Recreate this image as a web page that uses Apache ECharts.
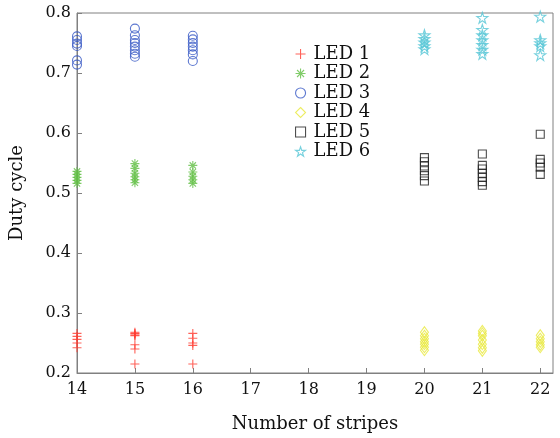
<!DOCTYPE html>
<html>
<head>
<meta charset="utf-8">
<script src="https://cdn.jsdelivr.net/npm/echarts@6/dist/echarts.min.js"></script>
<style>
  html, body { margin: 0; padding: 0; background: #fff; }
  #chart { width: 560px; height: 438px; }
</style>
</head>
<body>
<div id="chart"></div>
<script>
// Stripe counts measured for each LED group
const stripesA = [14, 15, 16];
const stripesB = [20, 21, 22];
const xTicks = [14, 15, 16, 17, 18, 19, 20, 21, 22];
const yTicks = [0.2, 0.3, 0.4, 0.5, 0.6, 0.7, 0.8];

// Duty cycle samples, one list per stripe count
const led1 = [
  [0.266, 0.261, 0.256, 0.250, 0.242],
  [0.268, 0.266, 0.265, 0.263, 0.262, 0.247, 0.240, 0.215],
  [0.266, 0.258, 0.250, 0.246, 0.215]
];
const led2 = [
  [0.536, 0.531, 0.526, 0.521, 0.516],
  [0.549, 0.541, 0.533, 0.527, 0.522, 0.517],
  [0.546, 0.535, 0.528, 0.522, 0.516]
];
const led3 = [
  [0.761, 0.755, 0.749, 0.745, 0.721, 0.714],
  [0.774, 0.763, 0.755, 0.750, 0.744, 0.738, 0.732, 0.727],
  [0.762, 0.756, 0.750, 0.744, 0.738, 0.731, 0.720]
];
const led4 = [
  [0.268, 0.262, 0.257, 0.252, 0.248, 0.243, 0.238],
  [0.270, 0.266, 0.262, 0.255, 0.248, 0.242, 0.237],
  [0.263, 0.257, 0.252, 0.247, 0.243]
];
const led5 = [
  [0.559, 0.552, 0.545, 0.537, 0.529, 0.520],
  [0.565, 0.546, 0.540, 0.533, 0.526, 0.519, 0.513],
  [0.598, 0.556, 0.550, 0.543, 0.531]
];
const led6 = [
  [0.763, 0.757, 0.751, 0.745, 0.740],
  [0.792, 0.772, 0.763, 0.755, 0.747, 0.739, 0.732],
  [0.794, 0.755, 0.750, 0.745, 0.730]
];
const seriesNames = ['LED 1', 'LED 2', 'LED 3', 'LED 4', 'LED 5', 'LED 6'];

function toPoints(xs, groups) {
  const pts = [];
  groups.forEach((vals, i) => vals.forEach(v => pts.push([xs[i], v])));
  return pts;
}

const SERIF = '"DejaVu Serif", "Liberation Serif", serif';
const PLUS = 'path://M0,5L10,5M5,0L5,10';
const ASTER = 'path://M0,5L10,5M5,0L5,10M1.5,1.5L8.5,8.5M1.5,8.5L8.5,1.5';
const STAR = 'path://M10,0L12.25,6.91L19.51,6.91L13.63,11.18L15.88,18.09L10,13.82L4.12,18.09L6.37,11.18L0.49,6.91L7.75,6.91Z';

function outlined(name, data, symbol, size, color) {
  return {
    name, type: 'scatter', data, symbol, symbolSize: size, clip: false,
    itemStyle: { color: 'rgba(0,0,0,0)', borderColor: color, borderWidth: 1.1 },
    emphasis: { disabled: true }
  };
}

const chart = echarts.init(document.getElementById('chart'), null, { renderer: 'canvas' });
chart.setOption({
  animation: false,
  backgroundColor: '#fff',
  grid: { left: 76, right: 7, top: 13, bottom: 55, show: true, borderColor: '#808080', borderWidth: 1 },
  legend: {
    orient: 'vertical', left: 290, top: 40,
    itemWidth: 10, itemHeight: 10, itemGap: 1.5,
    data: seriesNames,
    itemStyle: { borderWidth: 1.1 },
    textStyle: { fontFamily: SERIF, fontSize: 18, lineHeight: 18, color: '#111', padding: [0, 0, 0, 3] }
  },
  xAxis: {
    type: 'value', min: xTicks[0], max: 22.22, interval: 1,
    name: 'Number of stripes', nameLocation: 'middle', nameGap: 42,
    nameTextStyle: { fontFamily: SERIF, fontSize: 18, color: '#111' },
    axisLine: { lineStyle: { color: '#808080' } },
    axisTick: { inside: true, length: 5, lineStyle: { color: '#808080' } },
    axisLabel: {
      fontFamily: SERIF, fontSize: 16, color: '#111', margin: 9, showMaxLabel: false,
      formatter: v => (xTicks.includes(v) ? String(v) : '')
    },
    splitLine: { show: false }
  },
  yAxis: {
    type: 'value', min: yTicks[0], max: yTicks[yTicks.length - 1], interval: 0.1,
    name: 'Duty cycle', nameLocation: 'middle', nameGap: 51,
    nameTextStyle: { fontFamily: SERIF, fontSize: 18, color: '#111' },
    axisLine: { lineStyle: { color: '#808080' } },
    axisTick: { inside: true, length: 5, lineStyle: { color: '#808080' } },
    axisLabel: { fontFamily: SERIF, fontSize: 16, color: '#111', margin: 6, formatter: v => v.toFixed(1) },
    splitLine: { show: false }
  },
  series: [
    outlined('LED 1', toPoints(stripesA, led1), PLUS, 9, '#ff3b30'),
    outlined('LED 2', toPoints(stripesA, led2), ASTER, 9, '#62bf45'),
    outlined('LED 3', toPoints(stripesA, led3), 'circle', 9, '#3556c4'),
    outlined('LED 4', toPoints(stripesB, led4), 'diamond', [8, 11], '#e9e83c'),
    outlined('LED 5', toPoints(stripesB, led5), 'rect', 8, '#222222'),
    outlined('LED 6', toPoints(stripesB, led6), STAR, 11, '#55c6d6')
  ]
});
</script>
</body>
</html>
